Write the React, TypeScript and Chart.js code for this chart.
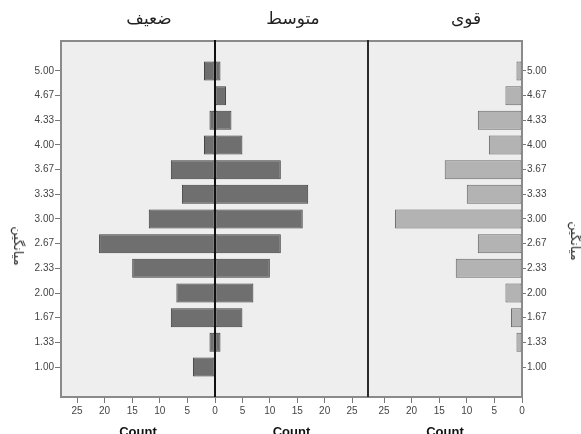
import React, { useEffect, useRef } from "react";
import { Chart, registerables } from "chart.js";

Chart.register(...registerables);

// ---- data ----
const categories = ["1.00", "1.33", "1.67", "2.00", "2.33", "2.67", "3.00", "3.33", "3.67", "4.00", "4.33", "4.67", "5.00"];
const weakCounts = [4, 1, 8, 7, 15, 21, 12, 6, 8, 2, 1, 0, 2];
const mediumCounts = [0, 1, 5, 7, 10, 12, 16, 17, 12, 5, 3, 2, 1];
const strongCounts = [0, 1, 2, 3, 12, 8, 23, 10, 14, 6, 8, 3, 1];
const countTicks = [0, 5, 10, 15, 20, 25];
const panelTitles = ["ضعیف", "متوسط", "قوی"];
const countTitle = "Count";
const yTitle = "میانگین";

// ---- layout ----
const W = 581;
const H = 434;
const L = 61;
const Z = 215;
const D = 368;
const R = 522;
const T = 41;
const B = 397;
const COUNT_MAX = 27.9;
const Y_MIN = -1.216;
const Y_MAX = 13.216;
const FONT = "'Liberation Sans', Arial, sans-serif";
const AR_FONT = "'DejaVu Sans', sans-serif";

const panelPlugin = {
  id: "panel",
  beforeDraw(chart: any, _a: any, o: any) {
    const { ctx, chartArea: a } = chart;
    ctx.save();
    ctx.fillStyle = o.bg;
    ctx.fillRect(a.left, a.top, a.right - a.left, a.bottom - a.top);
    ctx.restore();
  },
  afterDraw(chart: any, _a: any, o: any) {
    const { ctx, chartArea: a } = chart;
    ctx.save();
    ctx.strokeStyle = o.frame;
    ctx.lineWidth = 2;
    ctx.strokeRect(a.left, a.top, a.right - a.left, a.bottom - a.top);
    if (o.blackLeft) {
      ctx.strokeStyle = "#111";
      ctx.lineWidth = o.blackWidth;
      ctx.beginPath();
      ctx.moveTo(a.left, a.top - 1);
      ctx.lineTo(a.left, a.bottom);
      ctx.stroke();
    }
    ctx.restore();
  },
};

type Side = "left" | "middle" | "right";

function makeConfig(side: Side, counts: number[], fill: string, edge: string): any {
  const isLeft = side === "left";
  const isRight = side === "right";
  const isMiddle = side === "middle";
  const padding = isLeft
    ? { left: 0, right: W - Z, top: T, bottom: 0 }
    : isMiddle
    ? { left: Z, right: W - D, top: T, bottom: 0 }
    : { left: D, right: 0, top: T, bottom: 0 };
  return {
    type: "bar",
    data: {
      datasets: [
        {
          data: counts.map((c, i) => ({ x: c, y: i })),
          backgroundColor: fill,
          borderColor: edge,
          borderWidth: 1,
          borderSkipped: false,
          barPercentage: 0.96,
          categoryPercentage: 0.8,
        },
      ],
    },
    options: {
      indexAxis: "y",
      animation: false,
      responsive: false,
      events: [],
      layout: { padding },
      plugins: {
        legend: { display: false },
        tooltip: { enabled: false },
        panel: {
          bg: "#eeeeee",
          frame: "#8a8a8a",
          blackLeft: !isLeft,
          blackWidth: isMiddle ? 2 : 1.6,
        },
      },
      scales: {
        x: {
          type: "linear",
          position: "bottom",
          reverse: !isMiddle,
          min: 0,
          max: COUNT_MAX,
          offset: false,
          afterFit: (s: any) => {
            s.height = H - B;
          },
          afterBuildTicks: (s: any) => {
            s.ticks = countTicks.map((v) => ({ value: v }));
          },
          grid: { display: true, offset: false, drawOnChartArea: false, drawTicks: true, tickLength: 6, color: "#777", lineWidth: 1 },
          border: { display: false },
          ticks: {
            font: { family: FONT, size: 10 },
            color: "#444",
            padding: 2,
            maxRotation: 0,
            autoSkip: false,
            callback: (v: number) => (isLeft && v === 0 ? "" : String(v)),
          },
        },
        y: {
          type: "linear",
          display: !isMiddle,
          position: isRight ? "right" : "left",
          min: Y_MIN,
          max: Y_MAX,
          offset: false,
          afterFit: (s: any) => {
            s.width = isMiddle ? 0 : isRight ? W - R : L;
          },
          afterBuildTicks: (s: any) => {
            s.ticks = categories.map((_, i) => ({ value: i }));
          },
          grid: {
            display: true,
            offset: false,
            drawOnChartArea: false,
            drawTicks: true,
            tickLength: isRight ? 4 : 6,
            color: "#777",
          },
          border: { display: false },
          ticks: {
            font: { family: FONT, size: 10 },
            color: "#444",
            padding: 1,
            autoSkip: false,
            callback: (v: number) => categories[v] ?? "",
          },
        },
      },
    },
    plugins: [panelPlugin],
  };
}

const abs: React.CSSProperties = { position: "absolute", left: 0, top: 0 };

export default function App() {
  const r1 = useRef<HTMLCanvasElement>(null);
  const r2 = useRef<HTMLCanvasElement>(null);
  const r3 = useRef<HTMLCanvasElement>(null);

  useEffect(() => {
    document.body.style.margin = "0";
    document.body.style.overflow = "hidden";
    const charts = [
      new Chart(r1.current!, makeConfig("left", weakCounts, "#6f6f6f", "#3c3c3c")),
      new Chart(r2.current!, makeConfig("middle", mediumCounts, "#6f6f6f", "#3c3c3c")),
      new Chart(r3.current!, makeConfig("right", strongCounts, "#b3b3b3", "#666666")),
    ];
    return () => charts.forEach((c) => c.destroy());
  }, []);

  const titleX = [149, 293, 466];
  const countX = [(L + Z) / 2, (Z + D) / 2, (D + R) / 2];

  return (
    <div style={{ position: "relative", width: W, height: H, overflow: "hidden", background: "#fff" }}>
      <canvas ref={r1} width={W} height={H} style={abs} />
      <canvas ref={r2} width={W} height={H} style={abs} />
      <canvas ref={r3} width={W} height={H} style={abs} />
      {panelTitles.map((t, i) => (
        <div
          key={t}
          dir="rtl"
          style={{
            position: "absolute",
            left: titleX[i],
            top: 6,
            transform: "translateX(-50%)",
            fontFamily: AR_FONT,
            fontSize: 17,
            lineHeight: "24px",
            color: "#222",
            whiteSpace: "nowrap",
          }}
        >
          {t}
        </div>
      ))}
      {countX.map((x, i) => (
        <div
          key={"c" + i}
          style={{
            position: "absolute",
            left: x,
            top: 425,
            transform: "translateX(-50%)",
            fontFamily: FONT,
            fontWeight: "bold",
            fontSize: 13,
            lineHeight: "13px",
            color: "#111",
            whiteSpace: "nowrap",
          }}
        >
          {countTitle}
        </div>
      ))}
      {[18, 575].map((x, i) => (
        <div
          key={"y" + i}
          dir="rtl"
          style={{
            position: "absolute",
            left: x,
            top: i === 0 ? 246 : 241,
            transform: "translate(-50%, -50%) rotate(90deg)",
            fontFamily: AR_FONT,
            fontSize: 13,
            lineHeight: "14px",
            color: "#333",
            whiteSpace: "nowrap",
          }}
        >
          {yTitle}
        </div>
      ))}
    </div>
  );
}
